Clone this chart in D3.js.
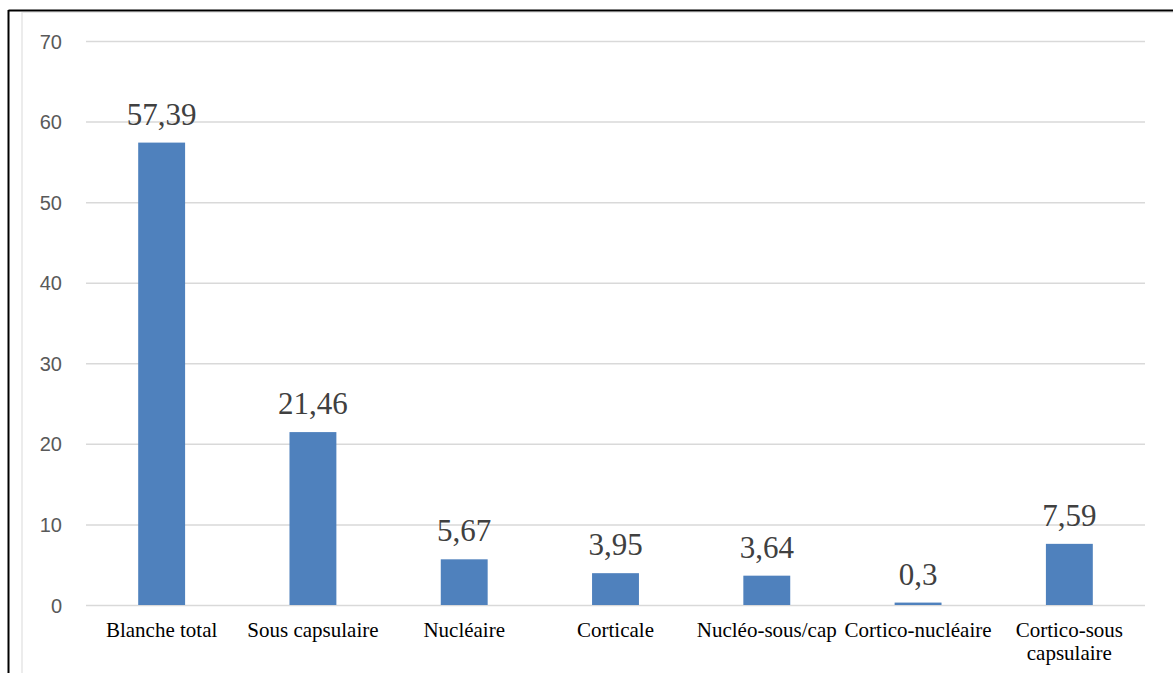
<!DOCTYPE html>
<html>
<head>
<meta charset="utf-8">
<script src="https://cdn.jsdelivr.net/npm/d3@7"></script>
<style>
  html, body { margin: 0; padding: 0; background: #ffffff; }
  svg { display: block; }
</style>
</head>
<body>
<svg id="chart" width="1173" height="673"></svg>
<script>
// Types of cataract (percent)
const categories = ["Blanche total", "Sous capsulaire", "Nucléaire", "Corticale", "Nucléo-sous/cap", "Cortico-nucléaire", "Cortico-sous capsulaire"];
const values = [57.39, 21.46, 5.67, 3.95, 3.64, 0.3, 7.59];
const valueLabels = ["57,39", "21,46", "5,67", "3,95", "3,64", "0,3", "7,59"];
const yTicks = [0, 10, 20, 30, 40, 50, 60, 70];

const svg = d3.select("#chart");
const W = 1173, H = 673;

// outer frame: black rule on top and left
svg.append("line").attr("x1", 8.5).attr("x2", W).attr("y1", 10.5).attr("y2", 10.5)
  .attr("stroke", "#000").attr("stroke-width", 2);
svg.append("line").attr("x1", 8.5).attr("x2", 8.5).attr("y1", 10).attr("y2", H)
  .attr("stroke", "#000").attr("stroke-width", 2);
// chart area border (light gray)
svg.append("line").attr("x1", 22).attr("x2", 22).attr("y1", 12).attr("y2", H)
  .attr("stroke", "#d9d9d9").attr("stroke-width", 1);
svg.append("line").attr("x1", 22).attr("x2", W).attr("y1", 12.5).attr("y2", 12.5)
  .attr("stroke", "#e6e6e6").attr("stroke-width", 1);

const plotLeft = 86, plotRight = 1145, plotTop = 41, plotBottom = 605;

const x = d3.scaleBand().domain(categories).range([plotLeft, plotRight]).paddingInner(0.69).paddingOuter(0.345);
const y = d3.scaleLinear().domain([0, 70]).range([plotBottom, plotTop]);

// horizontal gridlines
const yAxis = d3.axisLeft(y).tickValues(yTicks).tickSize(-(plotRight - plotLeft)).tickPadding(24).tickFormat(d3.format("d"));
const gy = svg.append("g").attr("transform", `translate(${plotLeft},0)`).call(yAxis);
gy.select(".domain").remove();
gy.selectAll(".tick line").attr("stroke", "#d9d9d9").attr("stroke-width", 1.5);
gy.selectAll(".tick text")
  .attr("fill", "#595959")
  .style("font-family", "'Liberation Sans', Arial, sans-serif")
  .style("font-size", "20px")
  .attr("dy", "0.35em");

// bars
svg.append("g").selectAll("rect").data(values).join("rect")
  .attr("x", (d, i) => x(categories[i]))
  .attr("width", x.bandwidth())
  .attr("y", d => y(d))
  .attr("height", d => y(0) - y(d))
  .attr("fill", "#4f81bd");

// value labels
svg.append("g").selectAll("text").data(values).join("text")
  .attr("x", (d, i) => x(categories[i]) + x.bandwidth() / 2)
  .attr("y", d => y(d) - 18)
  .attr("text-anchor", "middle")
  .attr("fill", "#404040")
  .style("font-family", "'Liberation Serif', 'Times New Roman', serif")
  .style("font-size", "31px")
  .text((d, i) => valueLabels[i]);

// category axis
const xAxis = d3.axisBottom(x).tickSize(0).tickPadding(0);
const gx = svg.append("g").attr("transform", `translate(0,${plotBottom})`).call(xAxis);
gx.select(".domain").remove();
gx.selectAll(".tick text")
  .attr("fill", "#000")
  .style("font-family", "'Liberation Serif', 'Times New Roman', serif")
  .style("font-size", "21px")
  .attr("y", 32)
  .attr("dy", null);

// wrap long multi-word labels within the band
const step = x.step();
gx.selectAll(".tick text").each(function () {
  const t = d3.select(this);
  const words = t.text().split(" ");
  if (words.length < 2) return;
  if (this.getComputedTextLength() <= step) return;
  t.text(null);
  let line = [], lineNo = 0;
  let tspan = t.append("tspan").attr("x", 0).attr("y", 32);
  words.forEach(w => {
    line.push(w);
    tspan.text(line.join(" "));
    if (tspan.node().getComputedTextLength() > step * 0.9 && line.length > 1) {
      line.pop();
      tspan.text(line.join(" "));
      line = [w];
      lineNo++;
      tspan = t.append("tspan").attr("x", 0).attr("y", 32 + lineNo * 23).text(w);
    }
  });
});
</script>
</body>
</html>
